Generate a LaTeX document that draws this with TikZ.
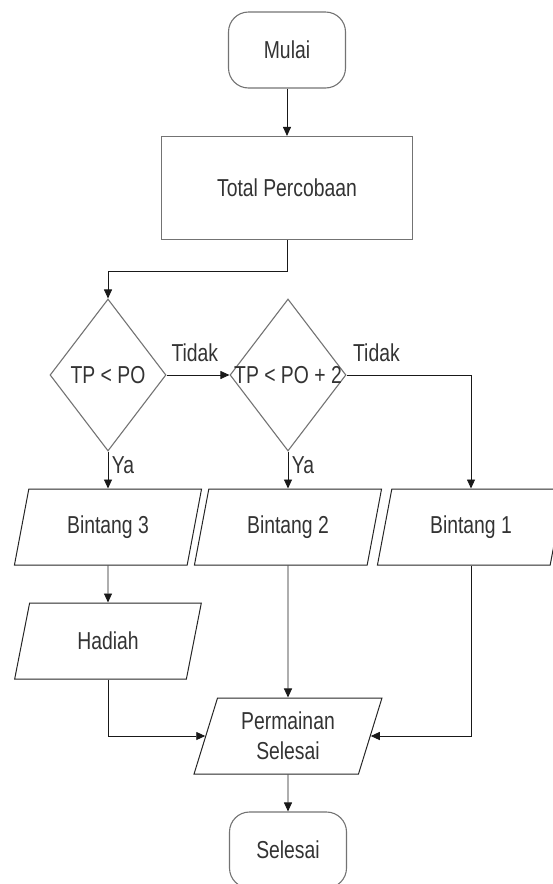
\documentclass[tikz,border=0pt]{standalone}
\usepackage{fontspec}
\setmainfont{Liberation Sans}[FakeStretch=0.79]
\usetikzlibrary{shapes.geometric,arrows.meta}

\begin{document}
\begin{tikzpicture}[x=1pt,y=-1pt,font=\fontsize{24.5}{30}\selectfont,
  every node/.style={text=black!80},
  term/.style={draw=black!55,line width=1.1pt,rounded corners=20pt,minimum width=117pt,minimum height=76pt},
  proc/.style={draw=black!55,line width=1.1pt,minimum width=251pt,minimum height=103pt},
  dec/.style={draw=black!55,line width=1.1pt,diamond,minimum width=116pt,minimum height=152pt,inner sep=0pt},
  io/.style={draw=black!85,line width=1pt,trapezium,trapezium left angle=72,trapezium right angle=108,trapezium stretches=true,minimum width=188pt,minimum height=76pt,inner sep=0pt,align=center},
  arr/.style={line width=0.9pt,draw=black!90,-{Triangle[length=9pt,width=8pt]}}]
\useasboundingbox (0,0) rectangle (552,884);
% shapes
\node[term] (mulai) at (287,50) {Mulai};
\node[proc] (tp) at (287,188) {Total Percobaan};
\node[dec,label=center:{TP < PO}] (d1) at (108,375) {};
\node[dec,label=center:{TP < PO + 2}] (d2) at (288,375) {};
\node[io] (b3) at (108,527) {Bintang 3};
\node[io] (b2) at (288,527) {Bintang 2};
\node[io] (b1) at (471,527) {Bintang 1};
\node[io] (hadiah) at (108,641) {Hadiah};
\node[io] (pm) at (288,736) {Permainan\\Selesai};
\node[term] (selesai) at (288,850) {Selesai};
% connectors
\draw[arr] (mulai) -- (tp);
\draw[arr] (tp.south) -- ++(0,31) -| (d1.north);
\draw[arr] (d1) -- node[above=9pt,pos=0.45] (t1) {Tidak} (d2);
\draw[arr] (d2.east) -| node[above=9pt,pos=0.12] (t2) {Tidak} (b1.north);
\draw[arr] (d1) -- node[right,pos=0.37] (y1) {Ya} (b3);
\draw[arr] (d2) -- node[right,pos=0.37] (y2) {Ya} (b2);
\draw[arr] (b3) -- (hadiah);
\draw[arr] (hadiah.south) |- (pm.left side);
\draw[arr] (b2) -- (pm);
\draw[arr] (b1.south) |- (pm.right side);
\draw[arr] (pm) -- (selesai);
\end{tikzpicture}
\end{document}
